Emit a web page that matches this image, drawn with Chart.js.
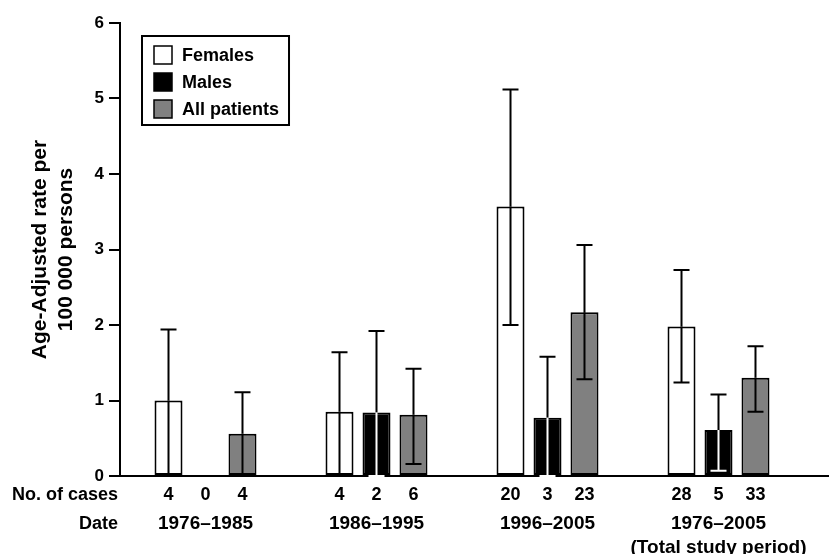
<!DOCTYPE html>
<html>
<head>
<meta charset="utf-8">
<script src="https://cdn.jsdelivr.net/npm/chart.js@4.4.1/dist/chart.umd.min.js"></script>
<style>
  html, body { margin: 0; padding: 0; background: #fff; }
  #wrap { width: 829px; height: 554px; }
</style>
</head>
<body>
<div id="wrap"><canvas id="rateChart"></canvas></div>
<script>
const periods = ["1976–1985", "1986–1995", "1996–2005", ["1976–2005", "(Total study period)"]];

const femalesRate = [1.0, 0.85, 3.57, 1.98];
const femalesHigh = [1.94, 1.64, 5.12, 2.73];
const femalesLow = [0, 0, 2.0, 1.24];
const femalesCases = [4, 4, 20, 28];

const malesRate = [0, 0.84, 0.77, 0.61];
const malesHigh = [null, 1.92, 1.58, 1.08];
const malesLow = [null, 0, 0, 0.07];
const malesCases = [0, 2, 3, 5];

const allRate = [0.56, 0.81, 2.17, 1.30];
const allHigh = [1.11, 1.42, 3.06, 1.72];
const allLow = [0, 0.16, 1.28, 0.85];
const allCases = [4, 6, 23, 33];

const FONT = "'Liberation Sans', Arial, Helvetica, sans-serif";
Chart.defaults.font.family = FONT;
Chart.defaults.color = "#000";

// error bars: line + caps, the part inside a black bar is drawn white
const errorBars = {
    id: "errorBars",
    afterDraw(chart) {
        const ctx = chart.ctx;
        const y = chart.scales.y;
        ctx.save();
        ctx.lineWidth = 2;
        chart.data.datasets.forEach((ds, d) => {
            const meta = chart.getDatasetMeta(d);
            const inner = ds.backgroundColor === "#000000" ? "#fff" : "#000";
            meta.data.forEach((bar, i) => {
                if (ds.errHigh[i] == null) return;
                const yHi = y.getPixelForValue(ds.errHigh[i]);
                const yLo = y.getPixelForValue(ds.errLow[i]);
                const yTop = bar.y;
                const half = 8;
                ctx.strokeStyle = "#000";
                ctx.beginPath();
                ctx.moveTo(bar.x, yHi);
                ctx.lineTo(bar.x, yTop);
                ctx.moveTo(bar.x - half, yHi);
                ctx.lineTo(bar.x + half, yHi);
                ctx.stroke();
                ctx.strokeStyle = inner;
                ctx.beginPath();
                ctx.moveTo(bar.x, Math.min(yTop, yLo));
                ctx.lineTo(bar.x, yLo);
                ctx.moveTo(bar.x - half, yLo);
                ctx.lineTo(bar.x + half, yLo);
                ctx.stroke();
            });
        });
        ctx.restore();
    }
};

// "No. of cases" row under every bar, row headers, boxed legend
const extras = {
    id: "extras",
    afterDraw(chart) {
        const ctx = chart.ctx;
        const area = chart.chartArea;
        ctx.save();

        // baseline runs on to the right edge
        ctx.strokeStyle = "#000";
        ctx.lineWidth = 2;
        ctx.beginPath();
        ctx.moveTo(area.right - 1, area.bottom);
        ctx.lineTo(chart.width, area.bottom);
        ctx.stroke();

        ctx.fillStyle = "#000";
        ctx.font = "bold 18px " + FONT;
        ctx.textBaseline = "middle";

        ctx.textAlign = "right";
        ctx.fillText("No. of cases", area.left - 2, area.bottom + 19);
        ctx.fillText("Date", area.left - 2, area.bottom + 48);

        ctx.textAlign = "center";
        chart.data.datasets.forEach((ds, d) => {
            chart.getDatasetMeta(d).data.forEach((bar, i) => {
                ctx.fillText(String(ds.cases[i]), bar.x, area.bottom + 19);
            });
        });

        // legend
        const boxX = area.left + 22, boxY = area.top + 13;
        const sw = 18, rowH = 27;
        let textW = 0;
        chart.data.datasets.forEach(ds => { textW = Math.max(textW, ctx.measureText(ds.label).width); });
        const boxW = 12 + sw + 10 + textW + 10;
        const boxH = 10 + rowH * chart.data.datasets.length - 2;
        ctx.lineWidth = 2;
        ctx.strokeRect(boxX, boxY, boxW, boxH);
        ctx.textAlign = "left";
        chart.data.datasets.forEach((ds, d) => {
            const ry = boxY + 10 + d * rowH;
            ctx.fillStyle = ds.backgroundColor;
            ctx.fillRect(boxX + 12, ry, sw, sw);
            ctx.lineWidth = 1.5;
            ctx.strokeRect(boxX + 12, ry, sw, sw);
            ctx.fillStyle = "#000";
            ctx.fillText(ds.label, boxX + 12 + sw + 10, ry + sw / 2 + 1);
        });
        ctx.restore();
    }
};

const barStyle = {
    borderColor: "#000",
    borderWidth: 2,
    borderSkipped: false,
    categoryPercentage: 0.649,
    barPercentage: 0.757
};

new Chart(document.getElementById("rateChart"), {
    type: "bar",
    data: {
        labels: periods,
        datasets: [
            { label: "Females", data: femalesRate, errHigh: femalesHigh, errLow: femalesLow, cases: femalesCases, backgroundColor: "#ffffff", ...barStyle },
            { label: "Males", data: malesRate, errHigh: malesHigh, errLow: malesLow, cases: malesCases, backgroundColor: "#000000", ...barStyle },
            { label: "All patients", data: allRate, errHigh: allHigh, errLow: allLow, cases: allCases, backgroundColor: "#808080", ...barStyle }
        ]
    },
    options: {
        responsive: true,
        maintainAspectRatio: false,
        animation: false,
        devicePixelRatio: 1,
        layout: { padding: { top: 23, left: 0, right: 25, bottom: 0 } },
        plugins: {
            legend: { display: false },
            tooltip: { enabled: false }
        },
        scales: {
            x: {
                z: 1,
                grid: { display: false },
                border: { color: "#000", width: 2 },
                ticks: {
                    color: "#000",
                    font: { size: 19, weight: "bold", lineHeight: 1.25 },
                    padding: 28,
                    maxRotation: 0,
                    autoSkip: false
                },
                afterFit(s) {
                    s.height = 78;
                    s.paddingLeft = 0;
                    s.paddingRight = 0;
                }
            },
            y: {
                min: 0,
                max: 6,
                grid: {
                    drawOnChartArea: false,
                    color: "#000",
                    lineWidth: 2,
                    tickLength: 11
                },
                border: { color: "#000", width: 2 },
                ticks: {
                    stepSize: 1,
                    color: "#000",
                    padding: 5,
                    font: { size: 17, weight: "bold" }
                },
                title: {
                    display: true,
                    text: ["Age-Adjusted rate per", "100 000 persons"],
                    color: "#000",
                    font: { size: 21, weight: "bold", lineHeight: 1.2 },
                    padding: { top: 28, bottom: 0 }
                },
                afterFit(s) {
                    s.width = 120;
                    s.paddingTop = 0;
                    s.paddingBottom = 0;
                }
            }
        }
    },
    plugins: [errorBars, extras]
});
</script>
</body>
</html>
